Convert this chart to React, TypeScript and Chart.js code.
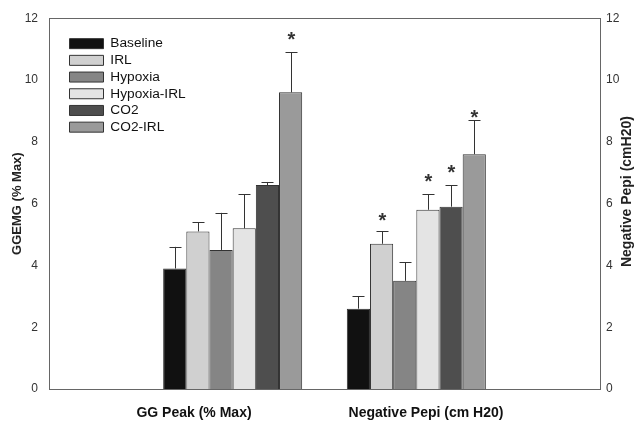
import { useEffect, useRef } from 'react';
import { Chart, registerables } from 'chart.js';

Chart.register(...registerables);

// ---- data ----
const categories = ['GG Peak (% Max)', 'Negative Pepi (cm H20)'];
const seriesNames = ['Baseline', 'IRL', 'Hypoxia', 'Hypoxia-IRL', 'CO2', 'CO2-IRL'];
const baseline = [3.9, 2.6];
const irl = [5.1, 4.7];
const hypoxia = [4.5, 3.5];
const hypoxiaIrl = [5.2, 5.8];
const co2 = [6.6, 5.9];
const co2Irl = [9.6, 7.6];
const baselineErr = [0.7, 0.4];
const irlErr = [0.3, 0.4];
const hypoxiaErr = [1.2, 0.6];
const hypoxiaIrlErr = [1.1, 0.5];
const co2Err = [0.1, 0.7];
const co2IrlErr = [1.3, 1.1];
// significance marker heights (axis units), null = no marker
const baselineStar = [null, null];
const irlStar = [null, 5.55];
const hypoxiaStar = [null, null];
const hypoxiaIrlStar = [null, 6.8];
const co2Star = [null, 7.1];
const co2IrlStar = [11.4, 8.9];
const yMin = 0;
const yMax = 12;
const yStep = 2;
const leftTitle = 'GGEMG (% Max)';
const rightTitle = 'Negative Pepi (cmH20)';

const seriesValues = [baseline, irl, hypoxia, hypoxiaIrl, co2, co2Irl];
const seriesErrs = [baselineErr, irlErr, hypoxiaErr, hypoxiaIrlErr, co2Err, co2IrlErr];
const seriesStars = [baselineStar, irlStar, hypoxiaStar, hypoxiaIrlStar, co2Star, co2IrlStar];
const seriesColors = ['#111111', '#d0d0d0', '#858585', '#e4e4e4', '#4e4e4e', '#9a9a9a'];

const FONT = "'Liberation Sans', Arial, Helvetica, sans-serif";

export default function App() {
  const ref = useRef<HTMLCanvasElement | null>(null);

  useEffect(() => {
    if (!ref.current) return;
    Chart.defaults.font.family = FONT;

    // slot labels: empty category at each side
    const slotLabels = ['', ...categories, ''];
    const pad = (arr: (number | null)[]) => [null, ...arr, null];

    // x label row (category titles under the groups)
    const titleSlots: string[] = Array(20).fill('');
    titleSlots[5] = categories[0];
    titleSlots[13] = categories[1];

    const datasets = seriesNames.map((name, i) => ({
      label: name,
      data: pad(seriesValues[i]),
      backgroundColor: seriesColors[i],
      borderColor: '#333333',
      borderWidth: 1,
      categoryPercentage: 0.757,
      barPercentage: 1,
    }));

    const legendPlace = {
      id: 'legendPlace',
      afterLayout(chart: any) {
        const lg = chart.legend;
        if (!lg) return;
        const w = lg.width;
        const h = lg.height;
        lg.left = 66.5;
        lg.top = 33.8;
        lg.right = lg.left + w;
        lg.bottom = lg.top + h;
      },
    };

    const errorBars = {
      id: 'errorBars',
      afterDatasetsDraw(chart: any) {
        const ctx = chart.ctx;
        const y = chart.scales.y;
        ctx.save();
        chart.data.datasets.forEach((ds: any, i: number) => {
          const meta = chart.getDatasetMeta(i);
          meta.data.forEach((el: any, j: number) => {
            const v = ds.data[j];
            if (v === null || v === undefined) return;
            const k = j - 1;
            const e = seriesErrs[i][k];
            const x = Math.round(el.x) + 0.5;
            const top = y.getPixelForValue(v + e);
            ctx.strokeStyle = '#333333';
            ctx.lineWidth = 1;
            ctx.beginPath();
            ctx.moveTo(x, el.y);
            ctx.lineTo(x, top);
            ctx.moveTo(x - 6, Math.round(top) + 0.5);
            ctx.lineTo(x + 6, Math.round(top) + 0.5);
            ctx.stroke();
            const s = seriesStars[i][k];
            if (s !== null && s !== undefined) {
              ctx.fillStyle = '#333333';
              ctx.font = `bold 20px ${FONT}`;
              ctx.textAlign = 'center';
              ctx.textBaseline = 'middle';
              ctx.fillText('*', x, y.getPixelForValue(s) + 4);
            }
          });
        });
        ctx.restore();
      },
      afterDraw(chart: any) {
        const ctx = chart.ctx;
        const area = chart.chartArea;
        ctx.save();
        ctx.translate(627, (area.top + area.bottom) / 2 - 12);
        ctx.rotate(-Math.PI / 2);
        ctx.fillStyle = '#222222';
        ctx.font = `bold 14px ${FONT}`;
        ctx.textAlign = 'center';
        ctx.textBaseline = 'middle';
        ctx.fillText(rightTitle, 0, 0);
        ctx.restore();
      },
    };

    const chart = new Chart(ref.current, {
      type: 'bar',
      data: { labels: slotLabels, datasets },
      plugins: [legendPlace, errorBars],
      options: {
        animation: false,
        responsive: true,
        maintainAspectRatio: false,
        layout: { padding: 0 },
        plugins: {
          tooltip: { enabled: false },
          legend: {
            position: 'chartArea' as any,
            align: 'start',
            labels: {
              boxWidth: 34,
              boxHeight: 10,
              padding: 3,
              color: '#111111',
              font: { size: 13.7, family: FONT },
            },
          },
        },
        scales: {
          x: {
            type: 'category',
            position: 'bottom',
            offset: false,
            grid: { display: false, drawTicks: false, offset: false },
            border: { display: true, color: '#666666', width: 1 },
            ticks: { display: false },
            afterFit: (s: any) => { s.height = 0; },
          },
          xLabels: {
            type: 'category',
            position: 'bottom',
            labels: titleSlots,
            offset: false,
            grid: { display: false, drawTicks: false },
            border: { display: false },
            ticks: {
              autoSkip: false,
              maxRotation: 0,
              minRotation: 0,
              padding: 16,
              color: '#111111',
              font: { size: 14, weight: 'bold', family: FONT },
            },
            afterFit: (s: any) => { s.height = 38; },
          },
          xTop: {
            type: 'category',
            position: 'top',
            labels: ['a'],
            grid: { display: false, drawTicks: false },
            border: { display: true, color: '#666666', width: 1 },
            ticks: { display: false },
            afterFit: (s: any) => { s.height = 14; },
          },
          y: {
            type: 'linear',
            position: 'left',
            min: yMin,
            max: yMax,
            grid: { display: false, drawTicks: false },
            border: { display: true, color: '#666666', width: 1 },
            ticks: {
              stepSize: yStep,
              padding: 11,
              color: '#333333',
              font: { size: 12, family: FONT },
            },
            title: {
              display: true,
              text: leftTitle,
              color: '#222222',
              font: { size: 13, weight: 'bold', family: FONT },
              padding: { top: 10, bottom: 0 },
            },
            afterFit: (s: any) => { s.width = 49; },
          },
          yRight: {
            type: 'linear',
            position: 'right',
            min: yMin,
            max: yMax,
            grid: { display: false, drawTicks: false },
            border: { display: true, color: '#666666', width: 1 },
            ticks: {
              stepSize: yStep,
              padding: 6,
              color: '#333333',
              font: { size: 12, family: FONT },
            },
            afterFit: (s: any) => { s.width = 36; },
          },
        },
      } as any,
    });

    return () => chart.destroy();
  }, []);

  return (
    <div style={{ position: 'absolute', left: 0, top: 0, width: 636, height: 427, background: '#ffffff' }}>
      <canvas ref={ref} />
    </div>
  );
}
